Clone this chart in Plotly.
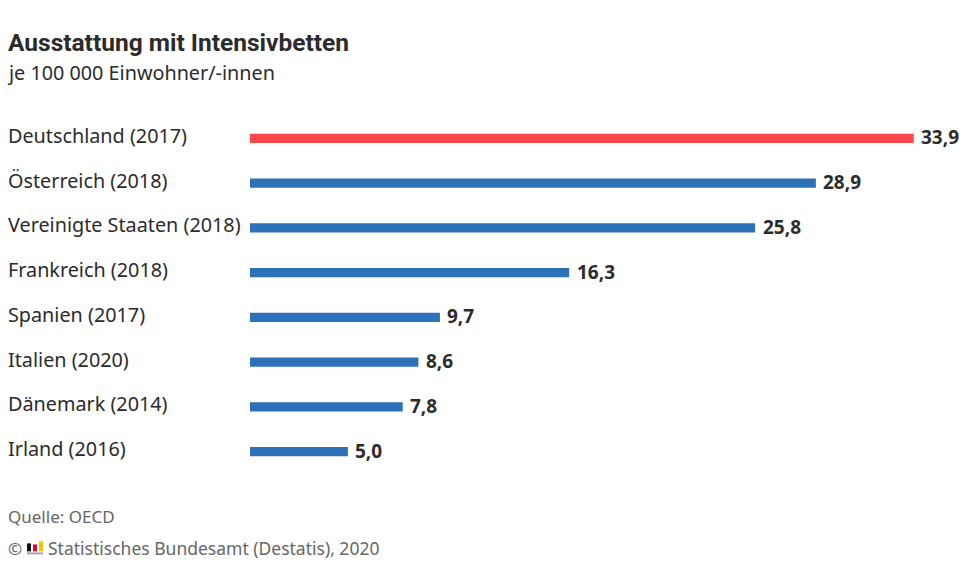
import plotly.graph_objects as go

categories = ["Deutschland (2017)", "Österreich (2018)", "Vereinigte Staaten (2018)", "Frankreich (2018)",
              "Spanien (2017)", "Italien (2020)", "Dänemark (2014)", "Irland (2016)"]
values = [33.9, 28.9, 25.8, 16.3, 9.7, 8.6, 7.8, 5.0]
value_labels = ["33,9", "28,9", "25,8", "16,3", "9,7", "8,6", "7,8", "5,0"]
bar_colors = ["#ff474c", "#2d72b8", "#2d72b8", "#2d72b8", "#2d72b8", "#2d72b8", "#2d72b8", "#2d72b8"]

W, H = 966, 575
FONT = "Noto Sans"
DARK = "#2b2b2b"
GREY = "#666666"
# plot area in pixels
left, right, top, bottom = 250, 966, 115.6, 473.6


def px(x):
    return (x - left) / (right - left)


def py(y):
    return (bottom - y) / (bottom - top)


fig = go.Figure()
fig.add_trace(go.Bar(
    x=values, y=categories, orientation="h",
    marker=dict(color=bar_colors, line_width=0),
    width=0.21,
    hoverinfo="skip",
))

# country names sit left aligned at the page edge, values right after the bars
for c, v, lab in zip(categories, values, value_labels):
    fig.add_annotation(xref="paper", x=px(7), y=c, yref="y", yshift=3, text=c, showarrow=False, borderpad=0,
                       xanchor="left", font=dict(family=FONT, size=19.8, color=DARK))
    fig.add_annotation(x=v, y=c, xshift=6.5, yshift=1, text=lab, showarrow=False, borderpad=0,
                       xanchor="left", font=dict(family=FONT, size=19, color=DARK, weight=700))


def page_text(x, y, text, size, color, weight=400, family=FONT):
    fig.add_annotation(xref="paper", yref="paper", x=px(x), y=py(y), text=text, showarrow=False, borderpad=0,
                       xanchor="left", yanchor="middle", font=dict(family=family, size=size, color=color, weight=weight))


page_text(7, 42, "Ausstattung mit Intensivbetten", 24.5, DARK, 700, "Roboto")
page_text(5.5, 72, "je 100 000 Einwohner/-innen", 19.8, DARK)
page_text(7, 516, "Quelle: OECD", 17, GREY)
page_text(7, 548, "©", 17, GREY)
page_text(47, 548, "Statistisches Bundesamt (Destatis), 2020", 17.5, GREY)

# small Destatis logo
for x0, x1, y0, y1, col in [(27, 43, 552, 554, "#a6a6a6"), (27, 31, 543, 551, "#111111"),
                            (33, 37, 544, 551, "#d4103a"), (39, 43, 541, 551, "#f5c400")]:
    fig.add_shape(type="rect", xref="paper", yref="paper", x0=px(x0), x1=px(x1), y0=py(y0), y1=py(y1),
                  fillcolor=col, line_width=0)

fig.update_layout(
    width=W, height=H,
    margin=dict(l=left, r=W - right, t=top, b=H - bottom, pad=0),
    paper_bgcolor="white", plot_bgcolor="white",
    showlegend=False,
    xaxis=dict(range=[0, (right - left) / 19.58], visible=False),
    yaxis=dict(autorange="reversed", visible=False, categoryorder="array", categoryarray=categories),
)

fig.write_html("out.html", config={"displayModeBar": False}, post_script="document.body.style.margin='0';")
